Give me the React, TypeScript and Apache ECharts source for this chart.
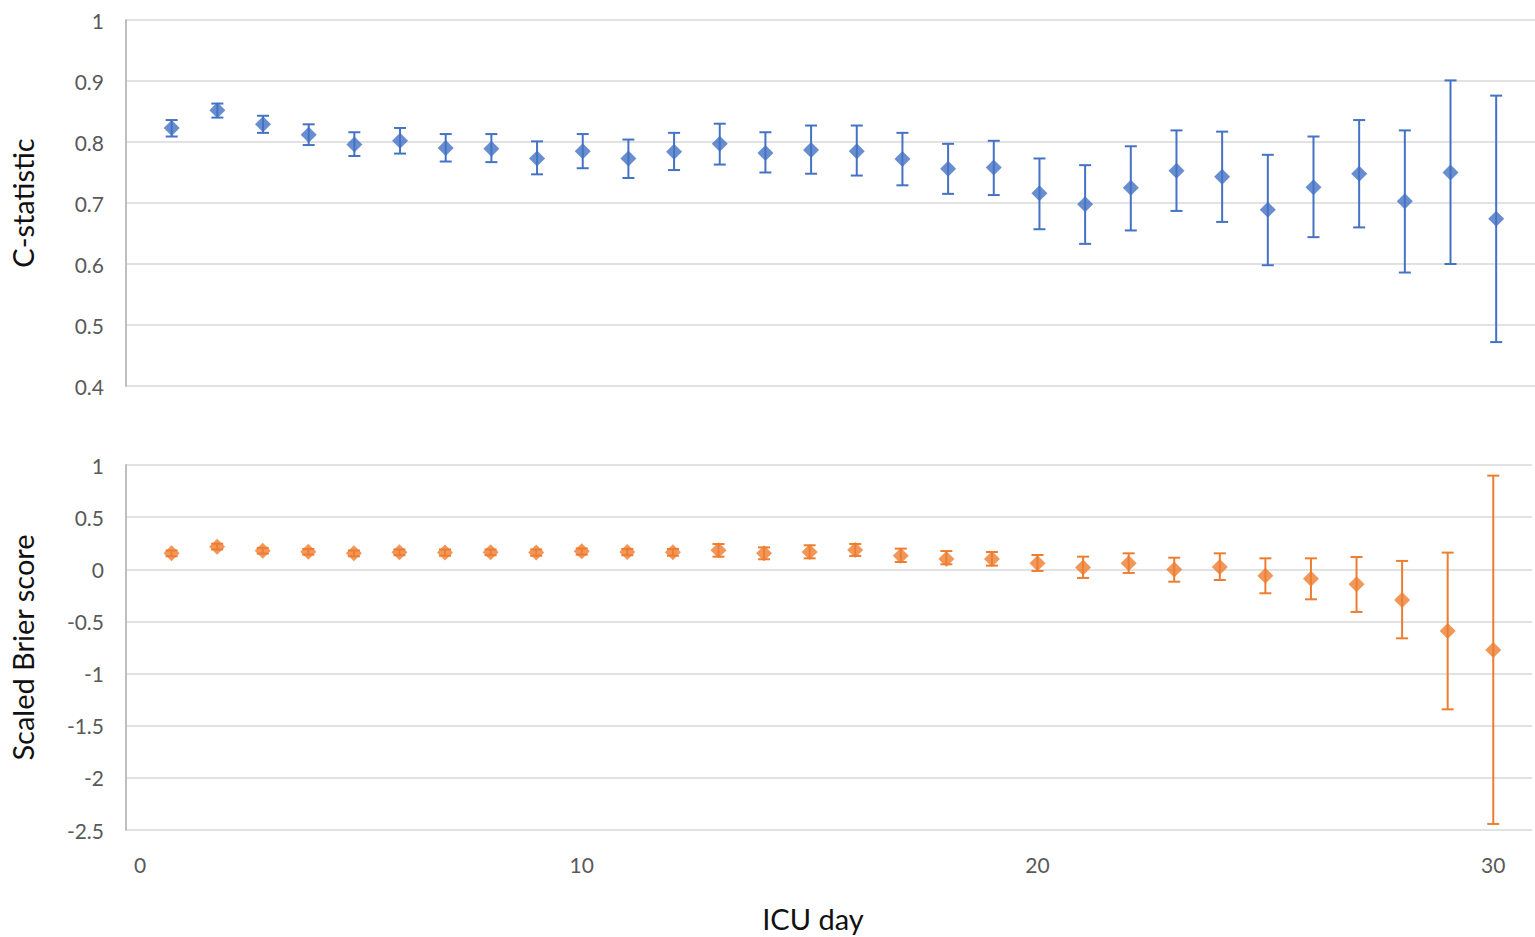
import React, { useEffect, useRef } from "react";
import * as echarts from "echarts";

const days = [1, 2, 3, 4, 5, 6, 7, 8, 9, 10, 11, 12, 13, 14, 15, 16, 17, 18, 19, 20, 21, 22, 23, 24, 25, 26, 27, 28, 29, 30];

const cMean = [0.823, 0.852, 0.829, 0.812, 0.796, 0.802, 0.79, 0.789, 0.773, 0.785, 0.773, 0.784, 0.797, 0.782, 0.787, 0.785, 0.772, 0.756, 0.758, 0.716, 0.698, 0.725, 0.753, 0.743, 0.689, 0.726, 0.748, 0.703, 0.75, 0.674];
const cLow = [0.809, 0.84, 0.815, 0.795, 0.777, 0.781, 0.768, 0.767, 0.747, 0.757, 0.741, 0.754, 0.763, 0.75, 0.748, 0.745, 0.729, 0.715, 0.713, 0.657, 0.633, 0.655, 0.687, 0.669, 0.598, 0.644, 0.66, 0.586, 0.6, 0.472];
const cHigh = [0.836, 0.863, 0.843, 0.829, 0.816, 0.823, 0.813, 0.813, 0.801, 0.813, 0.804, 0.815, 0.83, 0.816, 0.827, 0.827, 0.815, 0.797, 0.802, 0.773, 0.762, 0.793, 0.819, 0.817, 0.779, 0.809, 0.836, 0.819, 0.901, 0.876];

const bMean = [0.153, 0.217, 0.178, 0.169, 0.153, 0.163, 0.16, 0.163, 0.16, 0.172, 0.166, 0.163, 0.182, 0.153, 0.166, 0.185, 0.13, 0.099, 0.099, 0.057, 0.016, 0.057, -0.003, 0.022, -0.061, -0.09, -0.144, -0.294, -0.592, -0.774];
const bLow = [0.125, 0.19, 0.15, 0.14, 0.125, 0.135, 0.13, 0.135, 0.13, 0.14, 0.135, 0.13, 0.121, 0.096, 0.105, 0.128, 0.07, 0.048, 0.035, -0.016, -0.083, -0.035, -0.119, -0.103, -0.23, -0.288, -0.409, -0.662, -1.343, -2.442];
const bHigh = [0.18, 0.245, 0.205, 0.195, 0.18, 0.19, 0.19, 0.19, 0.19, 0.2, 0.195, 0.195, 0.242, 0.21, 0.23, 0.243, 0.198, 0.175, 0.166, 0.137, 0.121, 0.153, 0.111, 0.153, 0.105, 0.105, 0.118, 0.08, 0.16, 0.898];

const xTicks = [0, 10, 20, 30];

const BLUE = "#4472C4";
const ORANGE = "#ED7D31";
const FONT = "Lato, 'Open Sans', sans-serif";

function errorBars(xIndex: number, yIndex: number, low: number[], high: number[], color: string) {
  return {
    type: "custom",
    xAxisIndex: xIndex,
    yAxisIndex: yIndex,
    z: 3,
    data: days.map((d, i) => [d, low[i], high[i]]),
    renderItem: (params: any, api: any) => {
      const x = api.value(0);
      const lo = api.coord([x, api.value(1)]);
      const hi = api.coord([x, api.value(2)]);
      const cap = 6;
      const style = { stroke: color, lineWidth: 2 };
      return {
        type: "group",
        children: [
          { type: "line", shape: { x1: hi[0], y1: hi[1], x2: lo[0], y2: lo[1] }, style },
          { type: "line", shape: { x1: hi[0] - cap, y1: hi[1], x2: hi[0] + cap, y2: hi[1] }, style },
          { type: "line", shape: { x1: lo[0] - cap, y1: lo[1], x2: lo[0] + cap, y2: lo[1] }, style },
        ],
      };
    },
  };
}

export default function App() {
  const ref = useRef<HTMLDivElement>(null);
  useEffect(() => {
    if (!ref.current) return;
    const chart = echarts.init(ref.current, undefined, { renderer: "svg" });
    const xBase = {
      type: "value",
      min: 0,
      max: 30.85,
      interval: 10,
      splitLine: { show: false },
      axisLine: { show: false },
      axisTick: { show: false },
    };
    const yLabel = { color: "#595959", fontSize: 21, fontFamily: FONT, margin: 22 };
    const yName = { color: "#111111", fontSize: 29, fontFamily: FONT };
    chart.setOption({
      animation: false,
      backgroundColor: "#ffffff",
      grid: [
        { left: 124, right: 0, top: 20, height: 366 },
        { left: 124, right: 0, top: 465, height: 365 },
      ],
      xAxis: [
        { ...xBase, gridIndex: 0, axisLabel: { show: false } },
        {
          ...xBase,
          gridIndex: 1,
          name: "ICU day",
          nameLocation: "middle",
          nameGap: 74,
          nameTextStyle: { ...yName, padding: [0, 32, 0, 0] },
          axisLabel: {
            color: "#595959",
            fontSize: 21,
            fontFamily: FONT,
            margin: 24,
            alignMinLabel: "left",
            formatter: (v: number) => (v === 0 ? "{z|0}" : xTicks.includes(v) ? String(v) : ""),
            rich: {
              z: { color: "#595959", fontSize: 21, fontFamily: FONT, padding: [0, 0, 0, 8] },
            },
          },
        },
      ],
      yAxis: [
        {
          type: "value",
          gridIndex: 0,
          min: 0.4,
          max: 1,
          interval: 0.1,
          name: "C-statistic",
          nameLocation: "middle",
          nameGap: 89,
          nameTextStyle: yName,
          axisLabel: { ...yLabel, formatter: (v: number) => String(Math.round(v * 10) / 10) },
          axisLine: { show: true, lineStyle: { color: "#bfbfbf", width: 2 } },
          axisTick: { show: false },
          splitLine: { show: true, lineStyle: { color: "#d9d9d9", width: 1.5 } },
        },
        {
          type: "value",
          gridIndex: 1,
          min: -2.5,
          max: 1,
          interval: 0.5,
          name: "Scaled Brier score",
          nameLocation: "middle",
          nameGap: 89,
          nameTextStyle: yName,
          axisLabel: { ...yLabel },
          axisLine: { show: true, lineStyle: { color: "#bfbfbf", width: 2 } },
          axisTick: { show: false },
          splitLine: { show: true, lineStyle: { color: "#d9d9d9", width: 1.5 } },
        },
      ],
      series: [
        errorBars(0, 0, cLow, cHigh, BLUE),
        {
          type: "scatter",
          xAxisIndex: 0,
          yAxisIndex: 0,
          symbol: "diamond",
          symbolSize: 16,
          z: 4,
          itemStyle: { color: BLUE },
          data: days.map((d, i) => [d, cMean[i]]),
        },
        errorBars(1, 1, bLow, bHigh, ORANGE),
        {
          type: "scatter",
          xAxisIndex: 1,
          yAxisIndex: 1,
          symbol: "diamond",
          symbolSize: 16,
          z: 4,
          itemStyle: { color: ORANGE },
          data: days.map((d, i) => [d, bMean[i]]),
        },
      ],
    });
    return () => chart.dispose();
  }, []);
  return (
    <div
      ref={ref}
      style={{ position: "absolute", left: 0, top: 0, width: 1535, height: 937 }}
    />
  );
}
